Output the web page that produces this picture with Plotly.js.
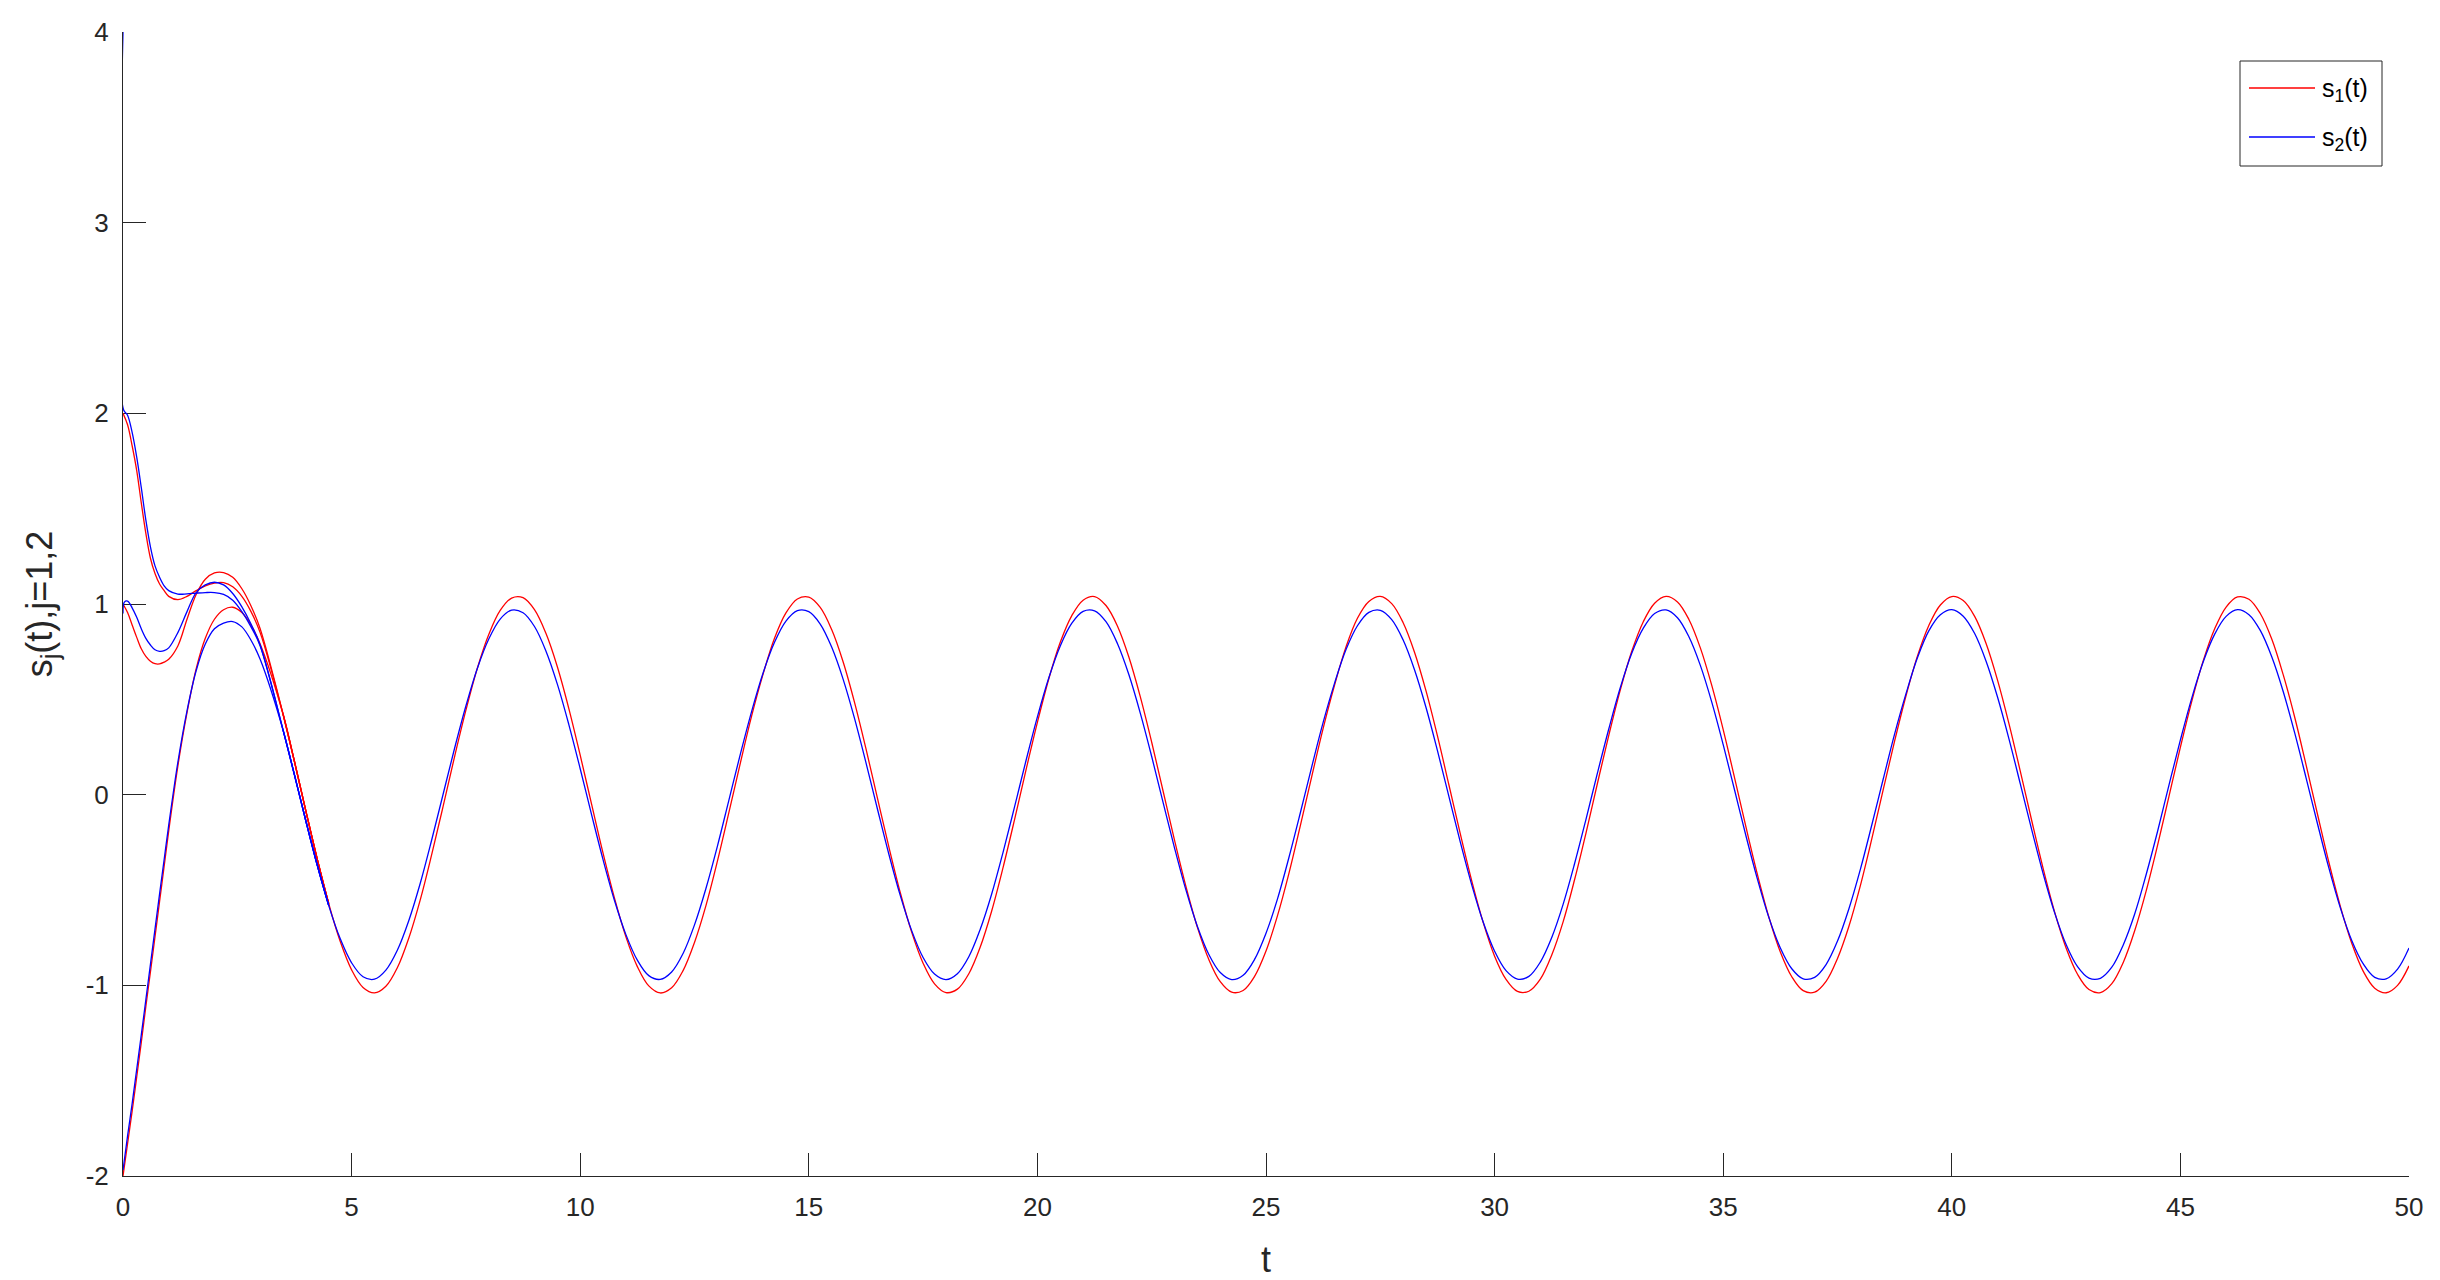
<!DOCTYPE html>
<html>
<head>
<meta charset="utf-8">
<script src="https://cdn.plot.ly/plotly-3.0.1.min.js"></script>
<style>
  html, body { margin: 0; padding: 0; background: #fff; }
  #plot { width: 2440px; height: 1280px; }
</style>
</head>
<body>
<div id="plot"></div>
<script>
// start-up part of each run, t up to 3
var tEarly = [0, 0.1, 0.2, 0.3, 0.4, 0.5, 0.6, 0.7, 0.8, 0.9, 1.0, 1.2, 1.4, 1.6, 1.8, 2.0, 2.2, 2.4, 2.6, 2.8, 3.0];
var s1FromTwo      = [2.00, 1.94, 1.83, 1.70, 1.53, 1.37, 1.24, 1.16, 1.105, 1.07, 1.04, 1.023, 1.04, 1.07, 1.095, 1.11, 1.112, 1.09, 1.04, 0.96, 0.85];
var s1FromOne      = [1.00, 0.955, 0.89, 0.825, 0.765, 0.725, 0.70, 0.687, 0.686, 0.695, 0.71, 0.78, 0.92, 1.05, 1.13, 1.163, 1.165, 1.14, 1.08, 0.99, 0.87];
var s1FromMinusTwo = [-2.00, -1.83, -1.66, -1.48, -1.30, -1.11, -0.93, -0.745, -0.56, -0.375, -0.19, 0.15, 0.43, 0.66, 0.82, 0.92, 0.97, 0.983, 0.955, 0.89, 0.79];

var tBlueTop = [0, 0.01, 0.1, 0.2, 0.3, 0.4, 0.5, 0.6, 0.7, 0.8, 0.9, 1.0, 1.2, 1.4, 1.6, 1.8, 2.0, 2.2, 2.4, 2.6, 2.8, 3.0];
var s2FromFour = [4.00, 2.02, 1.99, 1.90, 1.77, 1.61, 1.44, 1.30, 1.20, 1.14, 1.095, 1.07, 1.052, 1.053, 1.057, 1.06, 1.06, 1.05, 1.02, 0.96, 0.88, 0.78];
var tBlueMid = [0, 0.03, 0.1, 0.2, 0.3, 0.4, 0.5, 0.6, 0.7, 0.8, 0.9, 1.0, 1.2, 1.4, 1.6, 1.8, 2.0, 2.2, 2.4, 2.6, 2.8, 3.0];
var s2FromOne  = [0.95, 1.01, 1.015, 0.98, 0.93, 0.87, 0.82, 0.785, 0.76, 0.752, 0.755, 0.77, 0.85, 0.96, 1.06, 1.10, 1.114, 1.10, 1.055, 0.985, 0.895, 0.785];
var s2FromMinusTwo = [-1.97, -1.79, -1.62, -1.44, -1.26, -1.075, -0.89, -0.705, -0.52, -0.34, -0.16, 0.17, 0.44, 0.65, 0.79, 0.87, 0.90, 0.908, 0.88, 0.81, 0.71];

// settled oscillation, t = 3.5 .. 50 every 0.25
var tLate = [3.5, 3.75, 4, 4.25, 4.5, 4.75, 5, 5.25, 5.5, 5.75, 6, 6.25, 6.5, 6.75, 7, 7.25, 7.5, 7.75,
  8, 8.25, 8.5, 8.75, 9, 9.25, 9.5, 9.75, 10, 10.25, 10.5, 10.75, 11, 11.25, 11.5, 11.75,
  12, 12.25, 12.5, 12.75, 13, 13.25, 13.5, 13.75, 14, 14.25, 14.5, 14.75, 15, 15.25, 15.5, 15.75,
  16, 16.25, 16.5, 16.75, 17, 17.25, 17.5, 17.75, 18, 18.25, 18.5, 18.75, 19, 19.25, 19.5, 19.75,
  20, 20.25, 20.5, 20.75, 21, 21.25, 21.5, 21.75, 22, 22.25, 22.5, 22.75, 23, 23.25, 23.5, 23.75,
  24, 24.25, 24.5, 24.75, 25, 25.25, 25.5, 25.75, 26, 26.25, 26.5, 26.75, 27, 27.25, 27.5, 27.75,
  28, 28.25, 28.5, 28.75, 29, 29.25, 29.5, 29.75, 30, 30.25, 30.5, 30.75, 31, 31.25, 31.5, 31.75,
  32, 32.25, 32.5, 32.75, 33, 33.25, 33.5, 33.75, 34, 34.25, 34.5, 34.75, 35, 35.25, 35.5, 35.75,
  36, 36.25, 36.5, 36.75, 37, 37.25, 37.5, 37.75, 38, 38.25, 38.5, 38.75, 39, 39.25, 39.5, 39.75,
  40, 40.25, 40.5, 40.75, 41, 41.25, 41.5, 41.75, 42, 42.25, 42.5, 42.75, 43, 43.25, 43.5, 43.75,
  44, 44.25, 44.5, 44.75, 45, 45.25, 45.5, 45.75, 46, 46.25, 46.5, 46.75, 47, 47.25, 47.5, 47.75,
  48, 48.25, 48.5, 48.75, 49, 49.25, 49.5, 49.75, 50];
var s1Late = [0.423, 0.174, -0.086, -0.339, -0.572, -0.769, -0.919, -1.011, -1.040, -1.005, -0.908, -0.753, -0.553, -0.316, -0.063, 0.197, 0.443, 0.663,
  0.840, 0.966, 1.031, 1.033, 0.970, 0.846, 0.671, 0.453, 0.207, -0.051, -0.307, -0.543, -0.746, -0.902, -1.003, -1.040,
  -1.013, -0.923, -0.775, -0.582, -0.350, -0.096, 0.163, 0.413, 0.632, 0.820, 0.953, 1.026, 1.036, 0.982, 0.866, 0.697,
  0.484, 0.241, -0.017, -0.273, -0.513, -0.721, -0.884, -0.992, -1.038, -1.020, -0.939, -0.799, -0.610, -0.381, -0.131, 0.129,
  0.379, 0.608, 0.799, 0.938, 1.020, 1.039, 0.992, 0.885, 0.722, 0.514, 0.275, 0.018, -0.240, -0.483, -0.696, -0.865,
  -0.981, -1.036, -1.027, -0.953, -0.820, -0.636, -0.414, -0.164, 0.095, 0.348, 0.575, 0.775, 0.925, 1.013, 1.040, 1.002,
  0.902, 0.746, 0.544, 0.308, 0.052, -0.206, -0.452, -0.670, -0.847, -0.969, -1.032, -1.031, -0.968, -0.841, -0.666, -0.445,
  -0.200, 0.060, 0.314, 0.550, 0.752, 0.906, 1.004, 1.040, 1.011, 0.919, 0.770, 0.573, 0.341, 0.087, -0.172, -0.420,
  -0.643, -0.825, -0.955, -1.028, -1.036, -0.979, -0.859, -0.690, -0.477, -0.232, 0.026, 0.282, 0.520, 0.728, 0.889, 0.995,
  1.039, 1.018, 0.935, 0.793, 0.601, 0.373, 0.121, -0.138, -0.389, -0.616, -0.804, -0.942, -1.022, -1.038, -0.991, -0.880,
  -0.714, -0.506, -0.266, -0.009, 0.249, 0.491, 0.703, 0.870, 0.984, 1.037, 1.025, 0.949, 0.815, 0.628, 0.406, 0.155,
  -0.104, -0.357, -0.587, -0.781, -0.927, -1.015, -1.039, -1.000, -0.898];
var s2Late = [0.340, 0.104, -0.138, -0.371, -0.582, -0.755, -0.882, -0.955, -0.968, -0.920, -0.816, -0.661, -0.466, -0.239, 0.001, 0.241, 0.465, 0.662,
  0.816, 0.921, 0.968, 0.954, 0.882, 0.754, 0.580, 0.369, 0.136, -0.106, -0.341, -0.555, -0.734, -0.868, -0.949, -0.969,
  -0.930, -0.833, -0.683, -0.492, -0.271, -0.031, 0.210, 0.437, 0.638, 0.799, 0.910, 0.965, 0.960, 0.895, 0.774, 0.606,
  0.400, 0.168, -0.074, -0.311, -0.528, -0.713, -0.854, -0.941, -0.970, -0.939, -0.850, -0.706, -0.521, -0.301, -0.064, 0.178,
  0.408, 0.613, 0.780, 0.898, 0.961, 0.964, 0.907, 0.793, 0.630, 0.428, 0.200, -0.042, -0.280, -0.501, -0.691, -0.838,
  -0.933, -0.970, -0.947, -0.864, -0.727, -0.548, -0.331, -0.096, 0.146, 0.379, 0.585, 0.761, 0.886, 0.956, 0.967, 0.918,
  0.811, 0.654, 0.457, 0.231, -0.009, -0.249, -0.473, -0.668, -0.821, -0.923, -0.967, -0.953, -0.878, -0.749, -0.574, -0.361,
  -0.128, 0.114, 0.347, 0.562, 0.742, 0.872, 0.950, 0.969, 0.928, 0.828, 0.678, 0.485, 0.262, 0.023, -0.218, -0.444,
  -0.645, -0.804, -0.913, -0.966, -0.958, -0.891, -0.768, -0.598, -0.392, -0.159, 0.082, 0.319, 0.531, 0.719, 0.860, 0.943,
  0.970, 0.936, 0.845, 0.700, 0.512, 0.293, 0.055, -0.186, -0.416, -0.620, -0.786, -0.902, -0.962, -0.963, -0.905, -0.788,
  -0.626, -0.420, -0.193, 0.050, 0.287, 0.508, 0.697, 0.842, 0.935, 0.970, 0.944, 0.860, 0.722, 0.540, 0.324, 0.087,
  -0.154, -0.387, -0.595, -0.766, -0.888, -0.958, -0.966, -0.915, -0.804];

var xTicks = [0, 5, 10, 15, 20, 25, 30, 35, 40, 45, 50];
var yTicks = [-2, -1, 0, 1, 2, 3, 4];
var legendNames = ['s<sub>1</sub>(t)', 's<sub>2</sub>(t)'];

var RED = '#ff0000', BLUE = '#0000ff';
var axisColor = '#262626';
var font = 'Liberation Sans, Arial, Helvetica, sans-serif';

// a start-up run, joined onto the first few settled points
function runTrace(t, y, late, color) {
  var x = t.slice(), v = y.slice();
  for (var i = 0; i < 5; i++) {
    x.push(tLate[i]);
    v.push(late[i]);
  }
  return {
    x: x, y: v, mode: 'lines', showlegend: false,
    line: {color: color, width: 1.3, shape: 'spline'}, hoverinfo: 'skip'
  };
}

function lateTrace(y, color) {
  return {
    x: tLate, y: y, mode: 'lines', showlegend: false,
    line: {color: color, width: 1.3, shape: 'spline'}, hoverinfo: 'skip'
  };
}

var data = [
  runTrace(tEarly, s1FromTwo, s1Late, RED),
  runTrace(tEarly, s1FromOne, s1Late, RED),
  runTrace(tEarly, s1FromMinusTwo, s1Late, RED),
  lateTrace(s1Late, RED),
  runTrace(tBlueTop, s2FromFour, s2Late, BLUE),
  runTrace(tBlueMid, s2FromOne, s2Late, BLUE),
  runTrace(tEarly, s2FromMinusTwo, s2Late, BLUE),
  lateTrace(s2Late, BLUE)
];

// legend box drawn by hand, MATLAB style (pixel spots turned into paper fractions)
var plotL = 123, plotR = 2409, plotT = 32, plotB = 1176;
function px(x) { return (x - plotL) / (plotR - plotL); }
function py(y) { return (plotB - y) / (plotB - plotT); }

var legendRows = [88, 137];
var legendColors = [RED, BLUE];
var shapes = [{
  type: 'rect', xref: 'paper', yref: 'paper',
  x0: px(2240), x1: px(2382), y0: py(166), y1: py(61),
  line: {color: axisColor, width: 1}, fillcolor: '#ffffff', layer: 'above'
}];
var annotations = [];
legendRows.forEach(function (row, i) {
  shapes.push({
    type: 'line', xref: 'paper', yref: 'paper',
    x0: px(2249), x1: px(2315), y0: py(row), y1: py(row),
    line: {color: legendColors[i], width: 1.3}, layer: 'above'
  });
  annotations.push({
    xref: 'paper', yref: 'paper', x: px(2320), y: py(row + 2),
    xanchor: 'left', yanchor: 'middle', showarrow: false,
    text: legendNames[i], font: {family: font, size: 25, color: '#000000'}
  });
});

var layout = {
  width: 2440,
  height: 1280,
  paper_bgcolor: '#ffffff',
  plot_bgcolor: '#ffffff',
  margin: {l: plotL, r: 2440 - plotR, t: plotT, b: 1280 - plotB},
  font: {family: font, size: 26, color: axisColor},
  showlegend: false,
  shapes: shapes,
  annotations: annotations,
  xaxis: {
    range: [0, 50], autorange: false,
    tickmode: 'array', tickvals: xTicks, ticktext: xTicks.map(String),
    ticks: 'inside', ticklen: 23, tickwidth: 1, tickcolor: axisColor,
    showline: true, linecolor: axisColor, linewidth: 1, mirror: false,
    showgrid: false, zeroline: false, layer: 'below traces',
    ticklabelstandoff: 8,
    tickfont: {family: font, size: 26, color: axisColor},
    title: {text: 't', font: {family: font, size: 36, color: axisColor}, standoff: 30}
  },
  yaxis: {
    range: [-2, 4], autorange: false,
    tickmode: 'array', tickvals: yTicks, ticktext: yTicks.map(String),
    ticks: 'inside', ticklen: 23, tickwidth: 1, tickcolor: axisColor,
    showline: true, linecolor: axisColor, linewidth: 1, mirror: false,
    showgrid: false, zeroline: false, layer: 'below traces',
    ticklabelstandoff: 8,
    tickfont: {family: font, size: 26, color: axisColor},
    title: {text: 's<sub>j</sub>(t),j=1,2', font: {family: font, size: 36, color: axisColor}, standoff: 22}
  }
};

Plotly.newPlot('plot', data, layout, {staticPlot: true});
</script>
</body>
</html>
